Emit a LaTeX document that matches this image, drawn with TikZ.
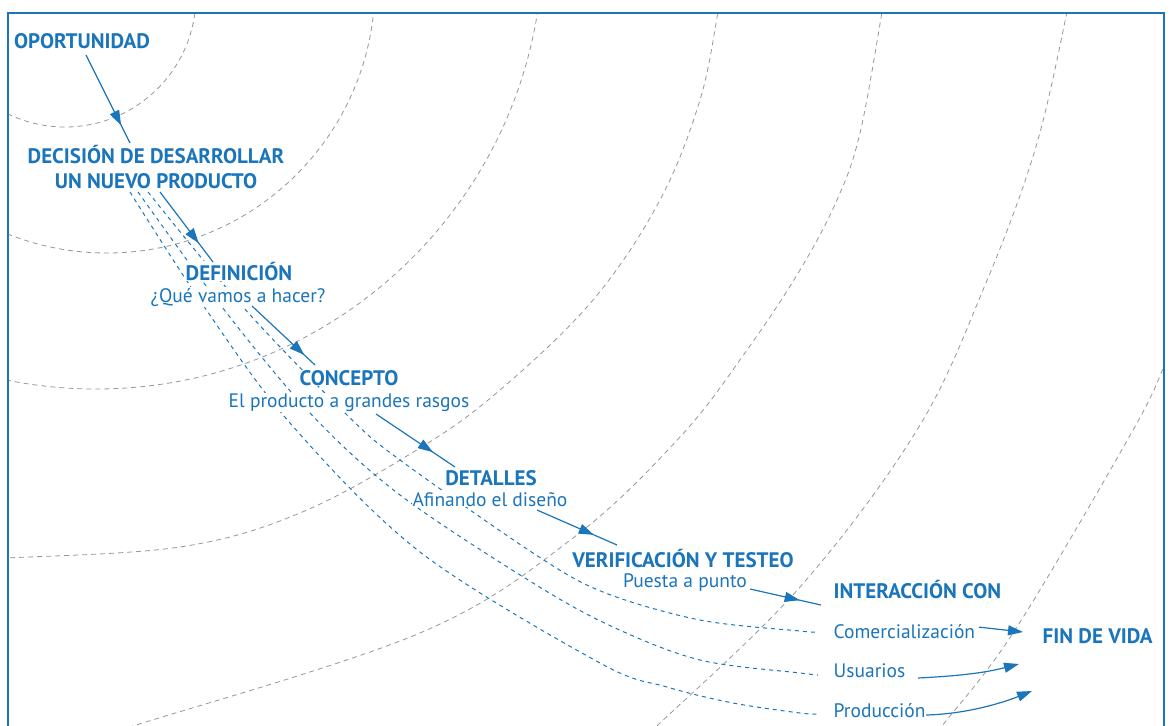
\documentclass[tikz,border=0pt]{standalone}
\usepackage{fontspec}
\setmainfont{PT Sans}
\usetikzlibrary{arrows.meta,decorations.markings}
\definecolor{myblue}{RGB}{27,117,187}
\definecolor{arcgray}{RGB}{150,150,150}
\pgfdeclarelayer{bg}
\pgfsetlayers{bg,main}
\tikzset{
  hd/.style={text=myblue, font=\fontsize{21}{21}\selectfont\bfseries, fill=white, inner sep=0.5pt},
  lb/.style={text=myblue, font=\fontsize{19.5}{20}\selectfont, fill=white, inner sep=0.5pt},
  arr/.style={draw=myblue, line width=1.2pt},
  midarr/.style={arr, postaction={decorate, decoration={markings,
      mark=at position #1 with {\arrow{Triangle[length=15pt,width=10pt,color=myblue]}}}}},
  endarr/.style={arr, -{Triangle[length=15pt,width=10pt,color=myblue]}},
  garc/.style={draw=arcgray, line width=0.8pt, dash pattern=on 5pt off 4pt},
  bdash/.style={draw=myblue, line width=1pt, dash pattern=on 4pt off 4pt},
}
\begin{document}
\begin{tikzpicture}[x=1pt,y=-1pt]
\useasboundingbox (0,0) rectangle (1171,726);

% labels
\node[hd, anchor=base] (oport) at (82,48) {OPORTUNIDAD};
\node[hd, anchor=base] (dec1) at (156,163) {DECISIÓN DE DESARROLLAR};
\node[hd, anchor=base] (dec2) at (156,188) {UN NUEVO PRODUCTO};
\node[hd, anchor=base] (defi) at (239,280) {DEFINICIÓN};
\node[lb, anchor=base] (que) at (238,302) {¿Qué vamos a hacer?};
\node[hd, anchor=base] (conc) at (349,385) {CONCEPTO};
\node[lb, anchor=base] (rasg) at (349,407) {El producto a grandes rasgos};
\node[hd, anchor=base] (deta) at (491,485) {DETALLES};
\node[lb, anchor=base] (afin) at (490,506) {Afinando el diseño};
\node[hd, anchor=base] (veri) at (683,567) {VERIFICACIÓN Y TESTEO};
\node[lb, anchor=base] (pues) at (685,587) {Puesta a punto};
\node[hd, anchor=base west] (inter) at (833,598) {INTERACCIÓN CON};
\node[lb, anchor=base west] (come) at (833,638) {Comercialización};
\node[lb, anchor=base west] (usua) at (833,677) {Usuarios};
\node[lb, anchor=base west] (prod) at (833,717) {Producción};
\node[hd, anchor=base west] (fin) at (1042,643) {FIN DE VIDA};

\begin{pgfonlayer}{bg}
  \begin{scope}
    \clip (8,13) rectangle (1163,726);
    \draw[garc] (65,-4) circle[radius=131pt];
    \draw[garc] (107,-15) circle[radius=268pt];
    \draw[garc] (96,-58) circle[radius=447pt];
    \draw[garc] plot[smooth, tension=0.6] coordinates {(0,558) (7,558) (180,547) (300,513) (420,448) (500,390) (593,300) (660,200) (700,100) (718,12) (720,0)};
    \draw[garc] plot[smooth, tension=0.6] coordinates {(110,733) (133,726) (420,633) (573,538) (680,437) (747,350) (800,270) (837,200) (860,133) (882,12) (883,0)};
    \draw[garc] plot[smooth, tension=0.6] coordinates {(650,733) (657,726) (800,587) (917,430) (983,290) (1035,150) (1067,12) (1068,0)};
    \draw[garc] plot[smooth, tension=0.6] coordinates {(1175,345) (1164,367) (1132,432) (1015,630) (942,726) (936,735)};
  \end{scope}
  % three dashed trajectories
  \draw[bdash] plot[smooth, tension=0.55] coordinates {([shift={(-8,4)}]dec2.base) (243,307) (347,415) (400,460) (533,553) (603,592) (700,620) (800,631) ([shift={(-16,-6)}]come.base west)};
  \draw[bdash] plot[smooth, tension=0.55] coordinates {([shift={(-18,4)}]dec2.base) (222,307) (310,413) (400,495) (533,583) (613,627) (700,660) (800,673) ([shift={(-15,-2)}]usua.base west)};
  \draw[bdash] plot[smooth, tension=0.55] coordinates {([shift={(-26,4)}]dec2.base) (203,305) (290,423) (420,552) (600,663) (667,687) (733,703) (800,713) ([shift={(-15,-3)}]prod.base west)};
\end{pgfonlayer}

% arrows
\draw[midarr=0.8] ([shift={(4,7)}]oport.base) -- ([shift={(-26,-20)}]dec1.base);
\draw[midarr=0.73] ([shift={(4,4)}]dec2.base) -- ([shift={(-26,-18)}]defi.base);
\draw[midarr=0.83] ([shift={(14,4)}]que.base) -- ([shift={(-34,-20)}]conc.base);
\draw[midarr=0.72] ([shift={(27,7)}]rasg.base) -- ([shift={(-36,-18)}]deta.base);
\draw[midarr=0.71] ([shift={(47,4)}]afin.base) -- ([shift={(-66,-22)}]veri.base);
\draw[midarr=0.7] ([shift={(65,2)}]pues.base) -- ([shift={(-12,7)}]inter.base west);
\draw[endarr] ([shift={(3,-4)}]come.east) -- ([shift={(-19,-11)}]fin.base west);
\draw[endarr] ([shift={(12,1)}]usua.base east) .. controls +(40,-2) and +(-35,9) .. ([shift={(-23,21)}]fin.base west);
\draw[endarr] ([shift={(0,-2)}]prod.base east) .. controls +(40,-1) and +(-30,12) .. ([shift={(-10,48)}]fin.base west);

% frame
\draw[myblue, line width=2pt] (7.5,740) -- (7.5,12.5) -- (1163.5,12.5) -- (1163.5,740);
\end{tikzpicture}
\end{document}
